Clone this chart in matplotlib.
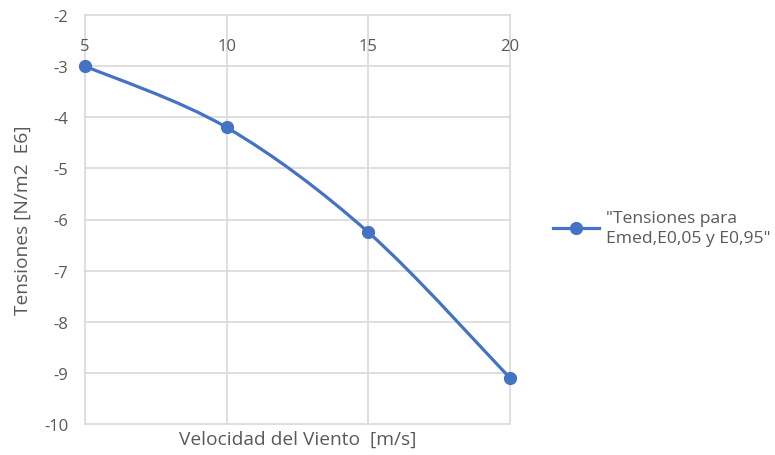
import matplotlib.pyplot as plt
from matplotlib.path import Path
from matplotlib.patches import PathPatch
import numpy as np

# data
velocidad = [5, 10, 15, 20]
tensiones = [-3.0, -4.2, -6.25, -9.1]
serie = '"Tensiones para\nEmed,E0,05 y E0,95"'

y_ticks = [-10, -9, -8, -7, -6, -5, -4, -3, -2]
x_ticks = [5, 10, 15, 20]

azul = "#4472C4"
gris_txt = "#595959"
gris_grid = "#D9D9D9"

plt.rcParams['font.family'] = ['Open Sans', 'DejaVu Sans']
plt.rcParams['axes.unicode_minus'] = False


def smooth_path(x, y):
    # Excel-style smoothed line: cubic Bezier segments, tangents from neighbours
    pts = np.column_stack([x, y]).astype(float)
    n = len(pts)
    verts = [pts[0]]
    codes = [Path.MOVETO]
    for i in range(n - 1):
        p0 = pts[i - 1] if i > 0 else pts[i]
        p1 = pts[i]
        p2 = pts[i + 1]
        p3 = pts[i + 2] if i + 2 < n else pts[i + 1]
        c1 = p1 + (p2 - p0) / 6.0
        c2 = p2 - (p3 - p1) / 6.0
        verts += [c1, c2, p2]
        codes += [Path.CURVE4] * 3
    return Path(verts, codes)


fig = plt.figure(figsize=(7.75, 4.56), dpi=100)
ax = fig.add_axes([85 / 775, 31 / 456, 425 / 775, 409 / 456])

ax.add_patch(PathPatch(smooth_path(velocidad, tensiones), facecolor="none",
                       edgecolor=azul, lw=2.3, zorder=3, clip_on=False))
ax.plot(velocidad, tensiones, linestyle="none", color=azul, marker="o",
        markersize=8.5, zorder=4, clip_on=False)

ax.set_xlim(5, 20)
ax.set_ylim(-10, -2)
ax.set_xticks(x_ticks)
ax.set_yticks(y_ticks)
ax.grid(True, color=gris_grid, lw=1.2, clip_on=False)
for s in ax.spines.values():
    s.set_visible(False)

ax.tick_params(axis="y", length=0, labelsize=12, labelcolor=gris_txt, pad=12)
ax.tick_params(axis="x", length=0, labelsize=12, labelcolor=gris_txt,
               top=False, bottom=False, labeltop=True, labelbottom=False,
               pad=-28)

ax.set_xlabel("Velocidad del Viento  [m/s]", fontsize=13.8, color=gris_txt, labelpad=4)
ax.set_ylabel("Tensiones [N/m2  E6]", fontsize=13.8, color=gris_txt, labelpad=9)

h = plt.Line2D([], [], color=azul, lw=2.3, marker="o", markersize=8.5)
leg = ax.legend([h], [serie], loc="center left", bbox_to_anchor=(553 / 775, 1 - 229 / 456),
                bbox_transform=fig.transFigure, frameon=False, fontsize=12.6,
                labelcolor=gris_txt, handlelength=2.6, handletextpad=0.4,
                borderpad=0, borderaxespad=0)
for t in leg.get_texts():
    t.set_linespacing(1.4)

fig.savefig("out.png", dpi=100)
